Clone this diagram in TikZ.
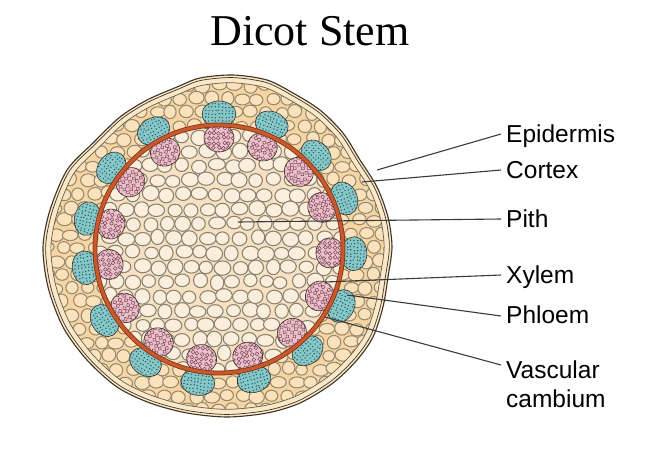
\documentclass[tikz,border=0pt]{standalone}
\usepackage{fontspec}
\setmainfont{Liberation Serif}
\setsansfont{Liberation Sans}
\usetikzlibrary{positioning,calc}
\definecolor{cortexbg}{HTML}{F6D5A2}
\definecolor{cortexcell}{HTML}{FBE1BC}
\definecolor{cellline}{HTML}{958A6E}
\definecolor{pithbg}{HTML}{F8E0C2}
\definecolor{pithcell}{HTML}{FCEEDC}
\definecolor{pithline}{HTML}{88826E}
\definecolor{epiband}{HTML}{FBE8C8}
\definecolor{epiline}{HTML}{3E3426}
\definecolor{ringcol}{HTML}{C9582C}
\definecolor{ringedge}{HTML}{7E3518}
\definecolor{phloemfill}{HTML}{86C8CA}
\definecolor{phloemdot}{HTML}{2C5C64}
\definecolor{xylemfill}{HTML}{EBBFCB}
\definecolor{xylemline}{HTML}{7A4656}
\definecolor{leadercol}{HTML}{3A3A3A}
\newcommand\stemshape{plot[smooth cycle] coordinates {(50,210) (67,170) (93,143) (120,117) (147,100) (177,87) (200,78) (233,75) (267,80) (293,93) (320,110) (343,133) (360,160) (377,187) (388,217) (392,247) (388,277) (383,307) (373,337) (357,360) (333,383) (300,403) (267,413) (227,417) (187,413) (150,403) (117,387) (87,360) (63,327) (48,287) (43,247)}}

\begin{document}
\begin{tikzpicture}[x=1pt,y=-1pt,
  cell/.style={draw=cellline,fill=cortexcell,line width=1.05pt},
  pith cell/.style={draw=pithline,fill=pithcell,line width=1.05pt},
  bundle edge/.style={draw=epiline,line width=0.6pt},
  phloem dot/.style={fill=phloemdot},
  xylem cell/.style={draw=xylemline,line width=0.5pt},
  leader line/.style={draw=leadercol,line width=1.1pt},
  part name/.style={font=\sffamily\fontsize{24.5}{29}\selectfont,anchor=base west,inner sep=0pt,align=left}]
\useasboundingbox (0,0) rectangle (648,448);
\pgfmathsetseed{12}
% epidermis and cortex
\fill[epiband] \stemshape;
\fill[cortexbg,scale around={0.955:(218,247)}] \stemshape;
\begin{scope}
\clip[scale around={0.955:(218,247)}] \stemshape;
\foreach \i in {0,...,23}
  \foreach \j in {0,...,25}{
    \pgfmathsetmacro\cx{40+\i*15.5+mod(\j,2)*7.75+2*rand}
    \pgfmathsetmacro\cy{72+\j*13.5+1.5*rand}
    \pgfmathsetmacro\rx{7+1*rand}
    \pgfmathsetmacro\ry{6.1+0.9*rand}
    \draw[cell] (\cx,\cy) ellipse [x radius=\rx pt,y radius=\ry pt];
  }
\end{scope}
% pith
\fill[pithbg] (219,249) circle (123pt);
\begin{scope}
\clip (219,249) circle (123pt);
\foreach \i in {0,...,15}
  \foreach \j in {0,...,18}{
    \pgfmathsetmacro\cx{92+\i*16.5+mod(\j,2)*8.25+2*rand}
    \pgfmathsetmacro\cy{122+\j*14.5+1.5*rand}
    \pgfmathsetmacro\rx{7.6+1*rand}
    \pgfmathsetmacro\ry{6.8+1*rand}
    \draw[pith cell] (\cx,\cy) ellipse [x radius=\rx pt,y radius=\ry pt];
  }
\end{scope}
% vascular bundles
\foreach \a in {90,67,44,22,-2,-25,-49,-75,-99,-123,-148,-172,167,143,119}{
  \begin{scope}[shift={(219,249)},rotate=\a-90]
    \fill[phloemfill] (0,-135) ellipse [x radius=17pt,y radius=13pt];
    \begin{scope}
      \clip (0,-135) ellipse [x radius=17pt,y radius=13pt];
      \foreach \u in {-5,...,5}
        \foreach \v in {-4,...,4}
          \fill[phloem dot] (\u*3.4+0.6*rand,-135+\v*3.4+0.6*rand) circle (0.8pt);
    \end{scope}
    \draw[bundle edge] (0,-135) ellipse [x radius=17pt,y radius=13pt];
    \fill[xylemfill] (0,-111) ellipse [x radius=15pt,y radius=14pt];
    \begin{scope}
      \clip (0,-111) ellipse [x radius=15pt,y radius=14pt];
      \foreach \u in {-3,...,3}
        \foreach \v in {-3,...,3}
          \draw[xylem cell] (\u*5+0.9*rand,-111+\v*5+0.9*rand) circle (1.9pt);
    \end{scope}
    \draw[bundle edge] (0,-111) ellipse [x radius=15pt,y radius=14pt];
  \end{scope}
}
% cambium ring
\draw[ringedge,line width=4.8pt] (219,249) circle (124pt);
\draw[ringcol,line width=3.2pt] (219,249) circle (124pt);
% epidermis lines
\draw[epiline,line width=1.1pt] \stemshape;
\draw[epiline,line width=0.7pt,scale around={0.985:(218,247)}] \stemshape;
\draw[cellline!70!black,line width=0.7pt,scale around={0.955:(218,247)}] \stemshape;
% labels
\node[font=\fontsize{44}{50}\selectfont] (title) at (310,31) {Dicot Stem};
\node[part name] (epi) at (506,142) {Epidermis};
\node[part name] (cortex) at (506,178) {Cortex};
\node[part name] (pith) at (506,227) {Pith};
\node[part name] (xylem) at (506,283) {Xylem};
\node[part name] (phloem) at (506,323) {Phloem};
\node[part name] (camb) at (506,407) {Vascular\\cambium};
\coordinate (epipt) at (377,170);
\coordinate (cortpt) at (362,182);
\coordinate (pithpt) at (238,222);
\coordinate (xylpt) at (325,282);
\coordinate (phlpt) at (347,295);
\coordinate (cambpt) at (325,317);
\draw[leader line] (epipt) -- ([xshift=-5pt,yshift=8pt]epi.base west);
\draw[leader line] (cortpt) -- ([xshift=-5pt,yshift=8pt]cortex.base west);
\draw[leader line] (pithpt) -- ([xshift=-5pt,yshift=8pt]pith.base west);
\draw[leader line] (xylpt) -- ([xshift=-5pt,yshift=8pt]xylem.base west);
\draw[leader line] (phlpt) -- ([xshift=-5pt,yshift=7pt]phloem.base west);
\draw[leader line] (cambpt) -- ([xshift=-5pt,yshift=42pt]camb.base west);
\end{tikzpicture}
\end{document}
